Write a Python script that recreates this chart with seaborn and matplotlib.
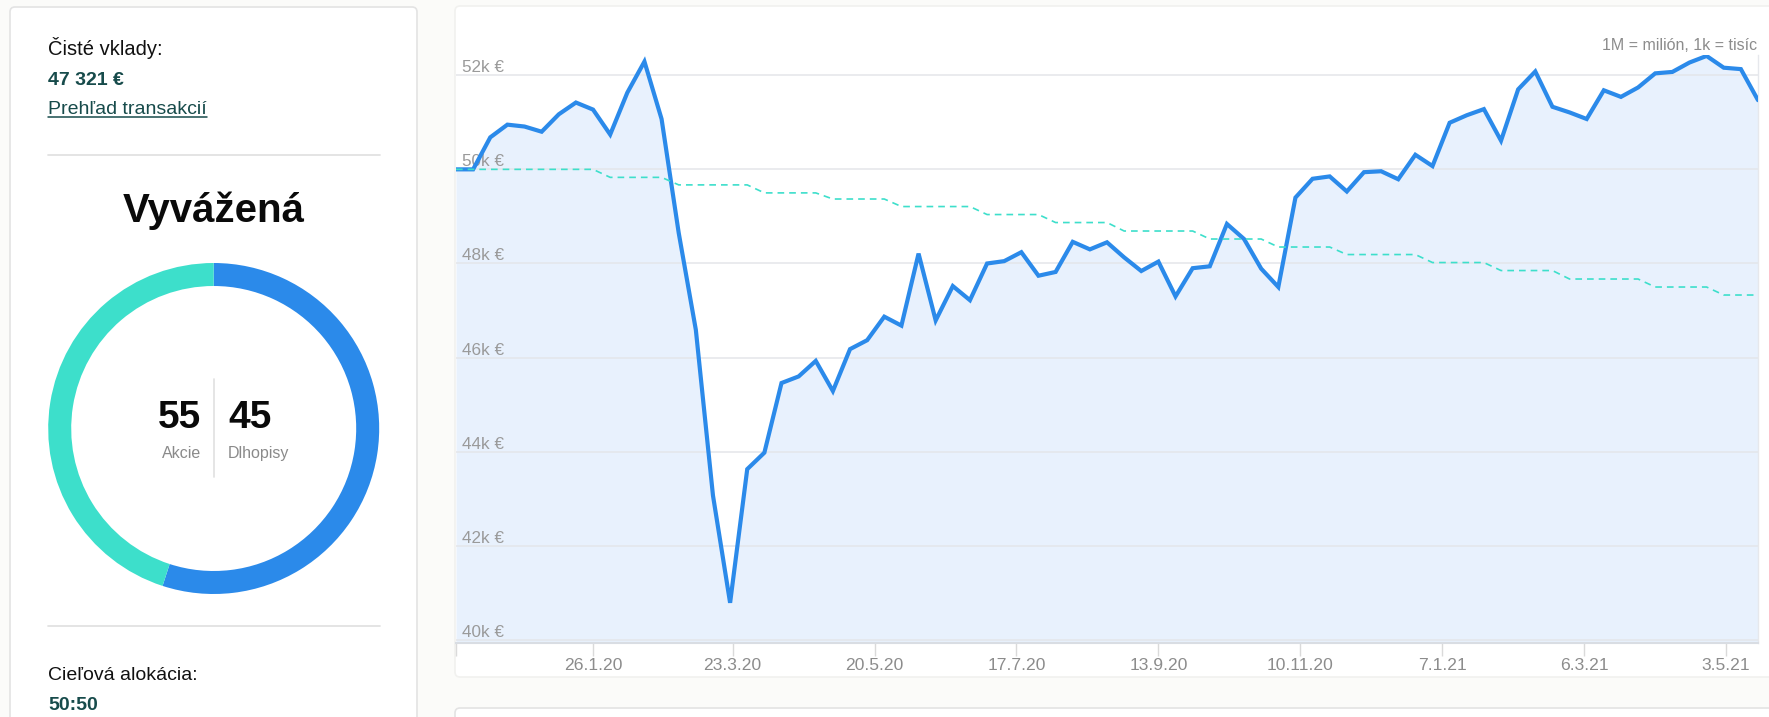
import numpy as np
import pandas as pd
import matplotlib
matplotlib.use("Agg")
import matplotlib.pyplot as plt
import matplotlib.transforms as mtrans
from matplotlib.patches import FancyBboxPatch
from matplotlib.lines import Line2D
import seaborn as sns

# ---------------- data ----------------
start_date = "2019-12-01"
portfolio_k = [50.00, 50.00, 50.68, 50.95, 50.91, 50.80, 51.17, 51.42, 51.27, 50.74,
               51.63, 52.29, 51.07, 48.65, 46.59, 43.07, 40.79, 43.63, 43.98, 45.46,
               45.60, 45.93, 45.29, 46.18, 46.37, 46.87, 46.68, 48.21, 46.79, 47.52,
               47.22, 48.00, 48.05, 48.24, 47.74, 47.82, 48.46, 48.30, 48.45, 48.13,
               47.84, 48.04, 47.30, 47.90, 47.94, 48.84, 48.52, 47.89, 47.50, 49.40,
               49.80, 49.85, 49.53, 49.94, 49.96, 49.79, 50.31, 50.07, 50.99, 51.15,
               51.28, 50.61, 51.70, 52.08, 51.33, 51.21, 51.07, 51.68, 51.54, 51.74,
               52.04, 52.07, 52.27, 52.41, 52.16, 52.13, 51.47]
deposits_k = [50.00, 50.00, 50.00, 50.00, 50.00, 50.00, 50.00, 50.00, 50.00, 49.83,
              49.83, 49.83, 49.83, 49.67, 49.67, 49.67, 49.67, 49.67, 49.50, 49.50,
              49.50, 49.50, 49.37, 49.37, 49.37, 49.37, 49.21, 49.21, 49.21, 49.21,
              49.21, 49.04, 49.04, 49.04, 49.04, 48.87, 48.87, 48.87, 48.87, 48.69,
              48.69, 48.69, 48.69, 48.69, 48.52, 48.52, 48.52, 48.52, 48.35, 48.35,
              48.35, 48.35, 48.19, 48.19, 48.19, 48.19, 48.19, 48.02, 48.02, 48.02,
              48.02, 47.85, 47.85, 47.85, 47.85, 47.67, 47.67, 47.67, 47.67, 47.67,
              47.50, 47.50, 47.50, 47.50, 47.33, 47.33, 47.33]
tick_dates = ["2020-01-26", "2020-03-23", "2020-05-20", "2020-07-17", "2020-09-13",
              "2020-11-10", "2021-01-07", "2021-03-06", "2021-05-03"]
tick_labels = ["26.1.20", "23.3.20", "20.5.20", "17.7.20", "13.9.20",
               "10.11.20", "7.1.21", "6.3.21", "3.5.21"]
y_ticks_k = [40, 42, 44, 46, 48, 50, 52]
y_tick_labels = ["40k €", "42k €", "44k €", "46k €", "48k €", "50k €", "52k €"]
alloc_names = ["Akcie", "Dlhopisy"]
alloc_values = [55, 45]

dates = pd.date_range(start_date, periods=len(portfolio_k), freq="7D")
df = pd.DataFrame({"date": dates, "portfolio": portfolio_k, "deposits": deposits_k})

# ---------------- style ----------------
sns.set_theme(style="white")
plt.rcParams["font.family"] = ["Liberation Sans", "DejaVu Sans"]

BLUE = "#2b8aea"
TURQ = "#3ddfcb"
TEAL = "#174b4b"
W, H, DPI = 1769, 717, 100

fig = plt.figure(figsize=(W / DPI, H / DPI), dpi=DPI, facecolor="#fbfbf9")
# pixel transform, origin top-left
px = mtrans.Affine2D().scale(1 / DPI, -1 / DPI).translate(0, H / DPI) + fig.dpi_scale_trans


def card(x, y, w, h, fc="white", ec="#e3e3e3"):
    p = FancyBboxPatch((x, y), w, h, boxstyle="round,pad=0,rounding_size=5",
                       transform=px, facecolor=fc, edgecolor=ec, linewidth=1.2, zorder=0)
    fig.add_artist(p)


card(10, 7, 407, 740)
card(455, 6, 1330, 671, ec="#f1f1ef")
card(455, 708, 1330, 60, ec="#e3e3e3")

# ---------------- left panel ----------------
fig.text(48, 55, "Čisté vklady:", transform=px, fontsize=14.5, color="#111111", va="baseline")
fig.text(48, 85, "47 321 €", transform=px, fontsize=14, color=TEAL, fontweight="bold", va="baseline")
link = fig.text(48, 114, "Prehľad transakcií", transform=px, fontsize=14, color=TEAL, va="baseline")
fig.canvas.draw()
bb = link.get_window_extent(renderer=fig.canvas.get_renderer())
fig.add_artist(Line2D([48, 48 + bb.width], [117, 117], transform=px, color=TEAL, lw=1.1))

fig.add_artist(Line2D([48, 380], [155, 155], transform=px, color="#e2e2e2", lw=1.3))
fig.add_artist(Line2D([48, 380], [626, 626], transform=px, color="#e2e2e2", lw=1.3))

fig.text(213.5, 222.5, "Vyvážená", transform=px, fontsize=29, fontweight="bold",
         color="#0a0a0a", ha="center", va="baseline")

cx, cy, r = 213.7, 428.5, 165.5
dax = fig.add_axes([(cx - r) / W, 1 - (cy + r) / H, 2 * r / W, 2 * r / H])
dax.pie(alloc_values, colors=[BLUE, TURQ], startangle=90, counterclock=False,
        radius=1.0, wedgeprops=dict(width=0.139, linewidth=0))
dax.set_xlim(-1, 1)
dax.set_ylim(-1, 1)
dax.axis("off")

fig.add_artist(Line2D([214, 214], [379, 477], transform=px, color="#e0e0e0", lw=1.2))
fig.text(201, 428, str(alloc_values[0]), transform=px, fontsize=28, fontweight="bold",
         color="#0a0a0a", ha="right", va="baseline")
fig.text(228, 428, str(alloc_values[1]), transform=px, fontsize=28, fontweight="bold",
         color="#0a0a0a", ha="left", va="baseline")
fig.text(201, 458, alloc_names[0], transform=px, fontsize=11.5, color="#8a8a8a",
         ha="right", va="baseline")
fig.text(228, 458, alloc_names[1], transform=px, fontsize=11.5, color="#8a8a8a",
         ha="left", va="baseline")

fig.text(48, 680, "Cieľová alokácia:", transform=px, fontsize=14, color="#111111", va="baseline")
fig.text(48, 710, "50:50", transform=px, fontsize=14, color=TEAL, fontweight="bold", va="baseline")

# ---------------- chart ----------------
ax_l, ax_r, ax_t, ax_b = 456, 1758, 55, 643
ax = fig.add_axes([ax_l / W, 1 - ax_b / H, (ax_r - ax_l) / W, (ax_b - ax_t) / H])
ax.set_facecolor("white")

ax.fill_between(df["date"], df["portfolio"], 39.0, color="#e8f1fd", linewidth=0, zorder=0.3)
sns.lineplot(data=df, x="date", y="portfolio", ax=ax, color=BLUE, linewidth=3.0,
             zorder=3, solid_joinstyle="miter")
sns.lineplot(data=df, x="date", y="deposits", ax=ax, color=TURQ, linewidth=1.2,
             zorder=4, dashes=False, linestyle=(0, (4, 3)))

ax.set_xlim(dates[0], dates[-1])
ax.set_ylim(39.936, 52.43)

ax.set_yticks(y_ticks_k)
ax.set_yticklabels(y_tick_labels)
ax.grid(axis="y", color="#e4e6ea", linewidth=1.1)
ax.grid(axis="x", visible=False)
ax.tick_params(axis="y", length=0, pad=-4.5, labelsize=12.3, labelcolor="#9a9a9a")
for lab in ax.get_yticklabels():
    lab.set_horizontalalignment("left")
    lab.set_verticalalignment("bottom")

xt = [dates[0]] + list(pd.to_datetime(tick_dates))
ax.set_xticks(xt)
ax.set_xticklabels([""] + tick_labels)
ax.tick_params(axis="x", direction="out", length=9, width=1, color="#dadada",
               pad=1.5, labelsize=12.6, labelcolor="#8c8c8c", bottom=True)

ax.set_xlabel("")
ax.set_ylabel("")
for s in ["top", "left"]:
    ax.spines[s].set_visible(False)
ax.spines["bottom"].set_color("#d9dde3")
ax.spines["bottom"].set_linewidth(1.5)
ax.spines["right"].set_color("#e6e8ec")
ax.spines["right"].set_linewidth(1.0)

fig.text(1757, 50, "1M = milión, 1k = tisíc", transform=px, fontsize=11.5,
         color="#8c8c8c", ha="right", va="baseline")

fig.savefig("out.png", dpi=DPI, facecolor=fig.get_facecolor())
